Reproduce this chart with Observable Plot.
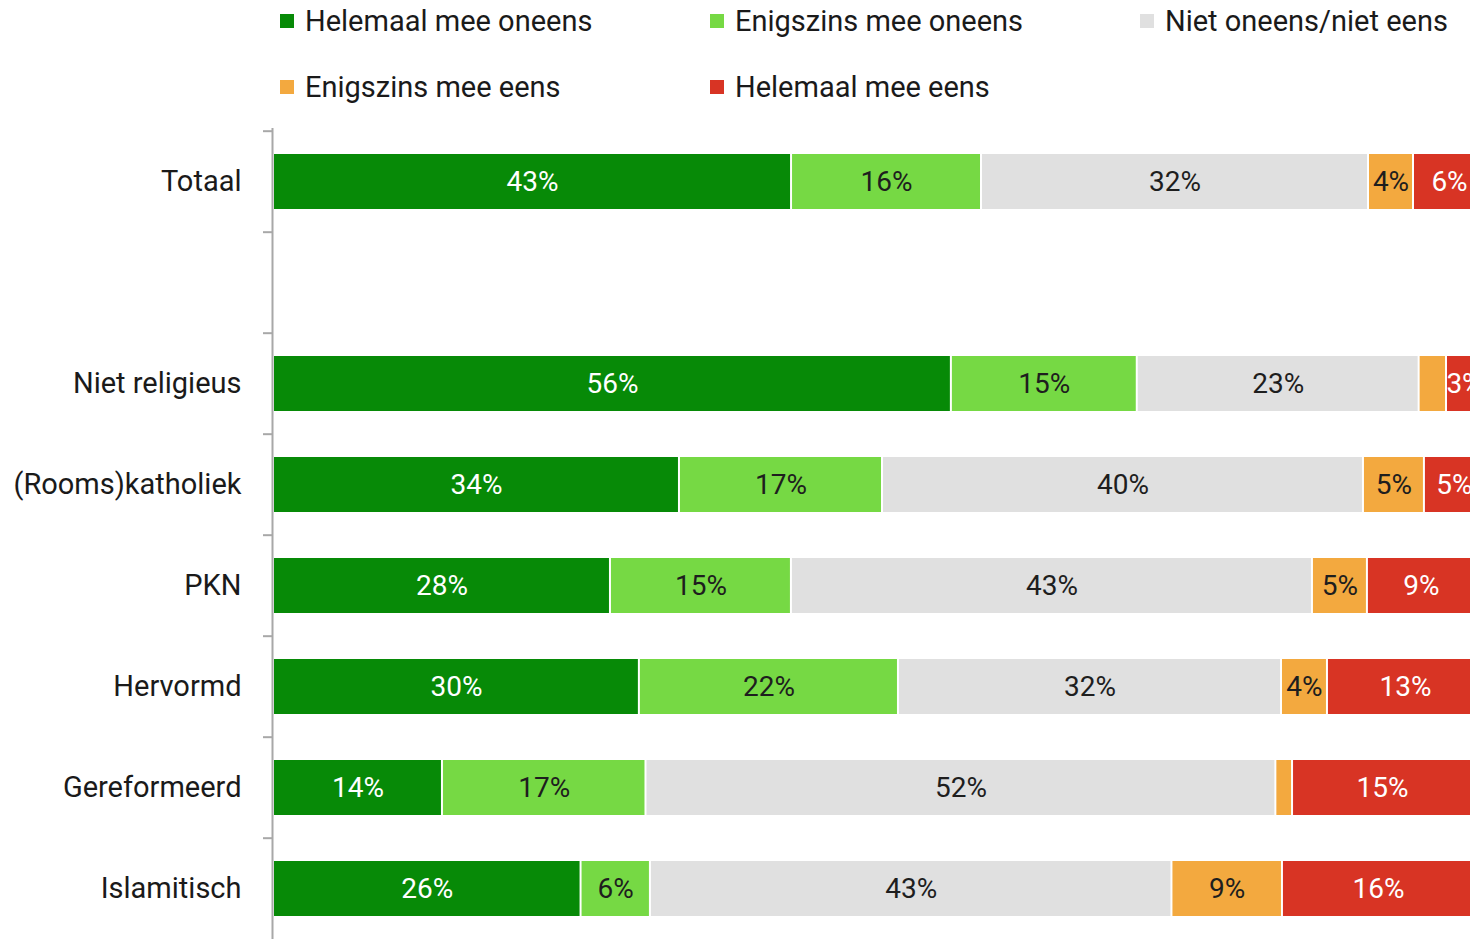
<!DOCTYPE html>
<html><head><meta charset="utf-8">
<script src="https://cdn.jsdelivr.net/npm/d3@7"></script>
<script src="https://cdn.jsdelivr.net/npm/@observablehq/plot@0.6"></script>
<style>
html,body{margin:0;padding:0;background:#fff;overflow:hidden;width:1470px;height:939px}
body{font-family:Roboto, "Noto Sans", sans-serif;}
#legend{position:relative;height:110px;}
.item{position:absolute;display:flex;align-items:center;height:40px;font-size:29px;color:#1a1a1a;white-space:nowrap}
.sw{width:14px;height:14px;margin-right:11px;flex:none}
#chart{width:1480px}
#chart svg{max-width:none !important;display:block}
</style></head><body>
<div id="legend"></div>
<div id="chart"></div>
<script>
// Categories (the empty string is the blank row between Totaal and the groups)
const categories = ["Totaal", "", "Niet religieus", "(Rooms)katholiek", "PKN", "Hervormd", "Gereformeerd", "Islamitisch"];
const seriesNames = ["Helemaal mee oneens", "Enigszins mee oneens", "Niet oneens/niet eens", "Enigszins mee eens", "Helemaal mee eens"];
const seriesColors = ["#078a07", "#76d944", "#e0e0e0", "#f3a93f", "#d83424"];
const labelColors = ["#ffffff", "#1e1e1e", "#1e1e1e", "#1e1e1e", "#ffffff"];

// Values (%) per series, in category order (null = blank row)
const helemaalOneens   = [43.17, null, 56.49, 33.83, 28.08, 30.49, 14.08, 25.63];
const enigszinsOneens  = [15.83, null, 15.49, 16.92, 15.08, 21.59, 16.96, 5.78];
const neutraal         = [32.25, null, 23.49, 40.08, 43.42, 31.92, 52.49, 43.46];
const enigszinsEens    = [3.75,  null, 2.28,  5.08,  4.58,  3.83,  1.39,  9.21];
const helemaalEens     = [6,     null, 3,     5,     9,     13,    15,    16];
const seriesValues = [helemaalOneens, enigszinsOneens, neutraal, enigszinsEens, helemaalEens];

const rows = [];
seriesNames.forEach((s, si) => {
  categories.forEach((c, ci) => {
    const v = seriesValues[si][ci];
    if (v != null) rows.push({cat: c, series: s, value: v, si});
  });
});

// Legend
const legend = document.getElementById("legend");
seriesNames.forEach((s, i) => {
  const col = i % 3, row = Math.floor(i / 3);
  const it = document.createElement("div");
  it.className = "item";
  it.style.left = (280 + col * 430) + "px";
  it.style.top = (1 + row * 66) + "px";
  it.innerHTML = `<span class="sw" style="background:${seriesColors[i]}"></span><span>${s}</span>`;
  legend.appendChild(it);
});

const width = 1480, height = 831, marginTop = 18, marginBottom = 0, marginLeft = 273, marginRight = 7;
const step = (height - marginTop - marginBottom) / categories.length;

const chart = Plot.plot({
  width, height, marginTop, marginBottom, marginLeft, marginRight,
  style: {fontFamily: "Roboto, 'Noto Sans', sans-serif", fontSize: "29px", background: "white", color: "#1a1a1a", maxWidth: "none"},
  x: {domain: [0, 100], axis: null},
  y: {domain: categories, paddingInner: 0.46, paddingOuter: 0.23, label: null},
  color: {domain: seriesNames, range: seriesColors},
  marks: [
    Plot.barX(rows, Plot.stackX({x: "value", y: "cat", z: "series", fill: "series", order: seriesNames, insetLeft: 1, insetRight: 1})),
    Plot.text(rows, Plot.stackX({
      x: "value", y: "cat", z: "series", order: seriesNames,
      text: d => d.value >= 2.5 ? Math.round(d.value) + "%" : "",
      fill: d => labelColors[d.si],
      fontSize: 28
    })),
    Plot.ruleX([0], {stroke: "#a8a8a8", strokeWidth: 2, dx: -1}),
    Plot.axisY({tickSize: 10, tickFormat: () => "", stroke: "#a8a8a8", strokeWidth: 2, dy: -step / 2, label: null}),
    Plot.axisY({tickSize: 0, tickPadding: 32, fontSize: 29, fill: "#1a1a1a", label: null})
  ]
});
document.getElementById("chart").appendChild(chart);
</script>
</body></html>
